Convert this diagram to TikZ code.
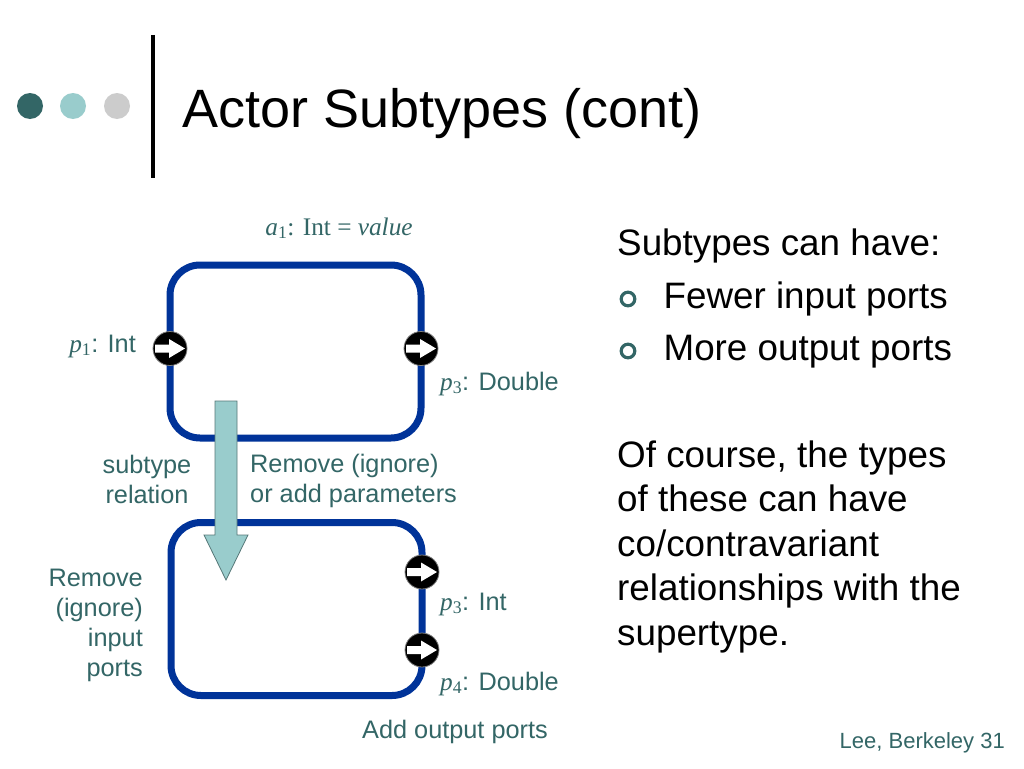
\documentclass[tikz,border=0pt]{standalone}
\usepackage{fontspec}
\usepackage{xcolor}
\setmainfont{Liberation Sans}
\newfontfamily\timesrm{Liberation Serif}
\usepackage{tikz}
\usetikzlibrary{calc}

\definecolor{slateteal}{HTML}{336666}
\definecolor{paleteal}{HTML}{99CCCC}
\definecolor{dotgray}{HTML}{CCCCCC}
\definecolor{actorblue}{HTML}{003399}
\definecolor{arrowedge}{HTML}{557777}

\newcommand{\portvar}[1]{{\timesrm\textit{p}\textsubscript{#1}}}

\tikzset{
  actor/.style={draw=actorblue, line width=7pt, rounded corners=30pt,
    minimum width=251pt, minimum height=173pt, inner sep=0pt, outer sep=0pt},
  port/.style={circle, fill=black, draw=gray, line width=0.8pt,
    minimum size=34pt, inner sep=0pt,
    path picture={\fill[white] ($(path picture bounding box.center)+(-15,4)$)
      -- ++(14,0) -- ++(0,5.5) -- ++(16,-9.5) -- ++(-16,-9.5) -- ++(0,5.5)
      -- ++(-14,0) -- cycle;}},
  lbl/.style={text=slateteal, font=\fontsize{25.3}{30}\selectfont, inner sep=0pt},
  body/.style={font=\fontsize{36.8}{44.5}\selectfont, inner sep=0pt}
}

\begin{document}
\begin{tikzpicture}[x=1pt, y=-1pt]
        \fill[white] (0,0) rectangle (1024,768);
        \useasboundingbox (0,0) rectangle (1024,768);
        % header
        \foreach \x/\c in {30/slateteal, 73/paleteal, 117/dotgray}
          \fill[\c] (\x,106) circle (13pt);
        \draw[line width=4.5pt] (153,35) -- (153,178);
        \node[anchor=base west, font=\fontsize{54}{60}\selectfont, inner sep=0pt] (title) at (182,127) {Actor Subtypes (cont)};
        % actors
        \node[actor] (super) at (295.5,351.5) {};
        \node[actor] (sub) at (296.5,609) {};
        \coordinate (reltop) at (226,401);
        \coordinate (reltip) at (226,580);
        \draw[fill=paleteal, draw=arrowedge, line width=0.8pt]
          ($(reltop)+(-11,0)$) -- ($(reltop)+(11,0)$) -- ($(reltip)+(11,-45)$)
          -- ($(reltip)+(22,-45)$) -- (reltip) -- ($(reltip)+(-22,-45)$)
          -- ($(reltip)+(-11,-45)$) -- cycle;
        \node[port] (in1) at ([yshift=3pt]super.west) {};
        \node[port] (out3) at ([yshift=3pt]super.east) {};
        \node[port] (sub3) at ([yshift=37pt]sub.east) {};
        \node[port] (sub4) at ([yshift=-41pt]sub.east) {};
        % labels
        \node[lbl, anchor=base, font=\timesrm\fontsize{25.3}{30}\selectfont] (attr) at (339,235) {\textit{a}\textsubscript{1}: Int = \textit{value}};
        \node[lbl, anchor=base east] (in1lbl) at (136,352) {\portvar{1}: Int};
        \node[lbl, anchor=base west] (out3lbl) at (440,390) {\portvar{3}: Double};
        \node[lbl, anchor=base, align=center] (rel) at (147,503) {subtype\\relation};
        \node[lbl, anchor=base west, align=left] (params) at (250,502) {Remove (ignore)\\or add parameters};
        \node[lbl, anchor=base east, align=right] (drop) at (143,676) {Remove\\(ignore)\\input\\ports};
        \node[lbl, anchor=base west] (sub3lbl) at (440,610) {\portvar{3}: Int};
        \node[lbl, anchor=base west] (sub4lbl) at (440,690) {\portvar{4}: Double};
        \node[lbl, anchor=base] (added) at (455,738) {Add output ports};
        % text
        \node[body, anchor=base west] (can) at (617,255) {Subtypes can have:};
        \foreach \y/\t in {308/Fewer input ports, 360/More output ports}
          \draw[slateteal, line width=3.2pt] (628,\y-9) circle (6.8pt)
            node[body, text=black, anchor=base west] at (662,\y) {\t};
        \node[body, anchor=base west, align=left] (course) at (617,645) {Of course, the types\\of these can have\\co/contravariant\\relationships with the\\supertype.};
        \node[anchor=base east, text=slateteal, font=\fontsize{22}{26}\selectfont, inner sep=0pt] (foot) at (1005,748) {Lee, Berkeley 31};
\end{tikzpicture}
\end{document}
